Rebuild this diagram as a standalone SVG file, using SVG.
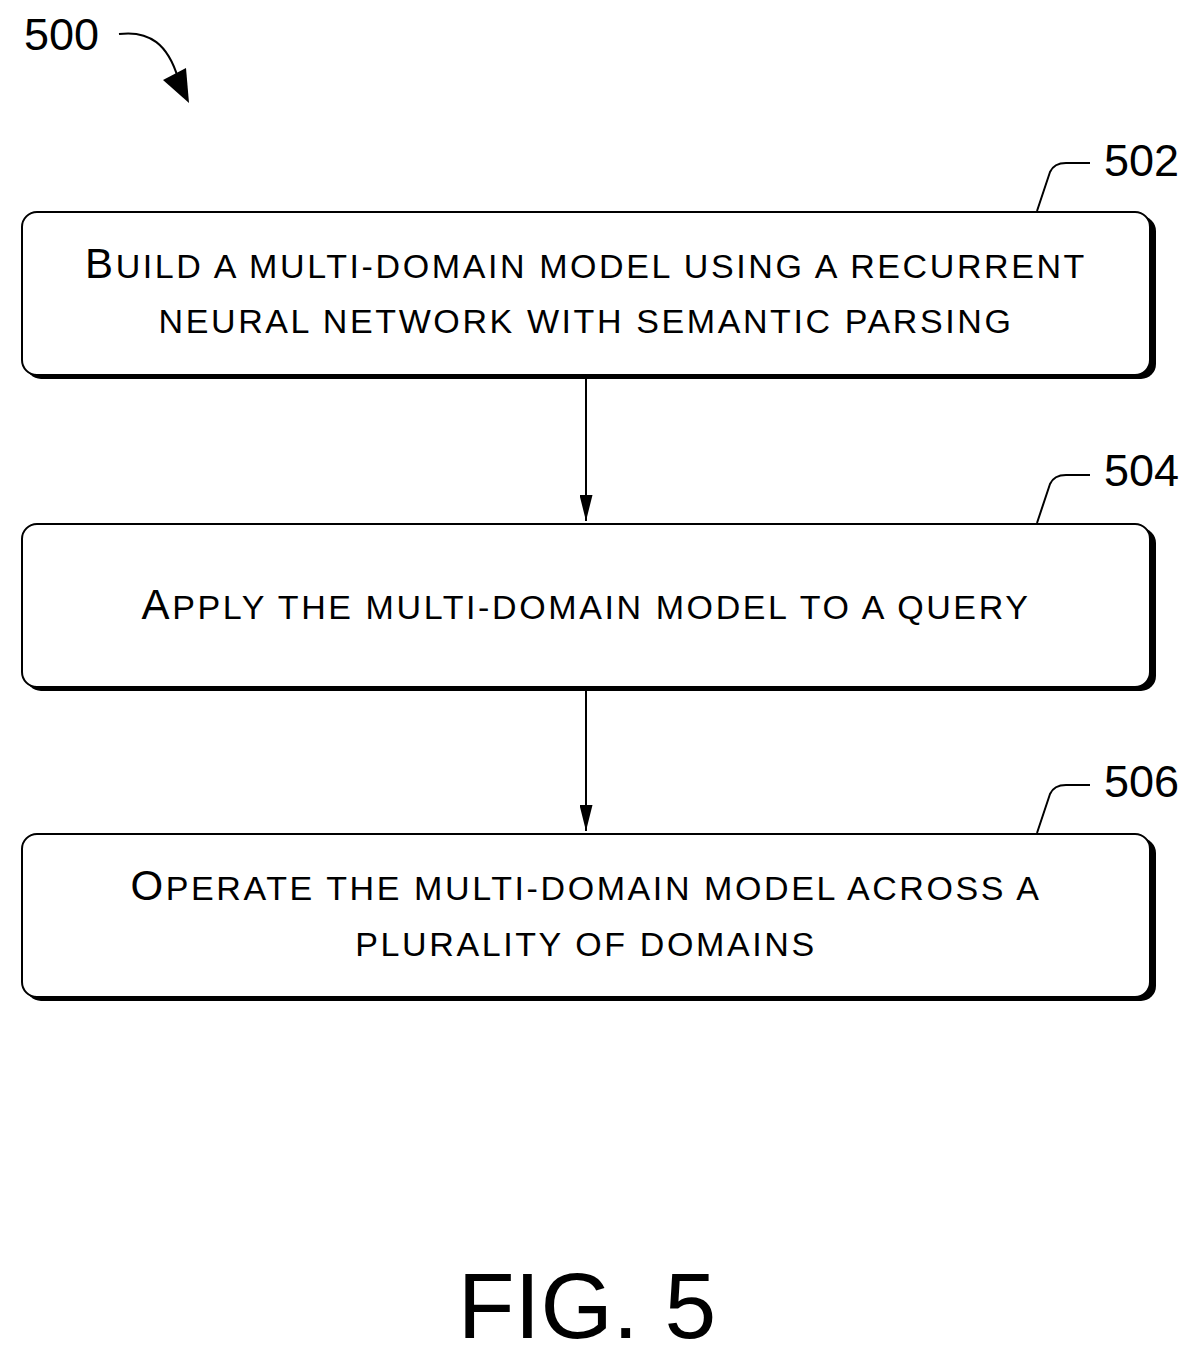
<svg xmlns="http://www.w3.org/2000/svg" width="1200" height="1363" viewBox="0 0 1200 1363">
<style>
text{font-family:"Liberation Sans",Arial,sans-serif;fill:#000}
.box{fill:#fff;stroke:#000;stroke-width:2}
.sh{fill:#000}
.t{font-size:34px;text-anchor:middle;letter-spacing:2.6px}
.b{font-size:42px}
.ref{font-size:45px}
.ln{fill:none;stroke:#000;stroke-width:2}
</style>
<defs><marker id="ah" markerWidth="26" markerHeight="13" refX="10" refY="5" orient="auto" markerUnits="userSpaceOnUse" viewBox="0 0 10 10" preserveAspectRatio="none"><path d="M0,0 L10,5 L0,10 Z"/></marker></defs>
<g id="n500"><text class="ref" x="24" y="50">500</text>
<path class="ln" d="M119,34 C150,30 168,45 178,78"/>
<path d="M163,80 L186,68 L189,103 Z"/></g>
<g id="n502">
<rect class="sh" x="26" y="216" width="1130" height="163" rx="15"/>
<rect class="box" x="22" y="212" width="1128" height="163" rx="15"/>
<text class="t" x="586" y="278"><tspan class="b">B</tspan>UILD A MULTI-DOMAIN MODEL USING A RECURRENT</text>
<text class="t" x="586" y="333">NEURAL NETWORK WITH SEMANTIC PARSING</text>
<path class="ln" d="M1037,211 L1050,172 Q1054,163 1066,163 L1090,163"/>
<text class="ref" x="1104" y="176">502</text></g>
<g id="n504">
<rect class="sh" x="26" y="528" width="1130" height="163" rx="15"/>
<rect class="box" x="22" y="524" width="1128" height="163" rx="15"/>
<text class="t" x="586" y="619"><tspan class="b">A</tspan>PPLY THE MULTI-DOMAIN MODEL TO A QUERY</text>
<path class="ln" d="M1037,523 L1050,484 Q1054,475 1066,475 L1090,475"/>
<text class="ref" x="1104" y="486">504</text></g>
<g id="n506">
<rect class="sh" x="26" y="838" width="1130" height="163" rx="15"/>
<rect class="box" x="22" y="834" width="1128" height="163" rx="15"/>
<text class="t" x="586" y="900"><tspan class="b">O</tspan>PERATE THE MULTI-DOMAIN MODEL ACROSS A</text>
<text class="t" x="586" y="956">PLURALITY OF DOMAINS</text>
<path class="ln" d="M1037,833 L1050,794 Q1054,785 1066,785 L1090,785"/>
<text class="ref" x="1104" y="797">506</text></g>
<g id="connectors">
<line class="ln" x1="586" y1="377" x2="586" y2="521" marker-end="url(#ah)"/>
<line class="ln" x1="586" y1="689" x2="586" y2="831" marker-end="url(#ah)"/>
</g>
<text x="587" y="1338" font-size="93" text-anchor="middle">FIG. 5</text>
</svg>
